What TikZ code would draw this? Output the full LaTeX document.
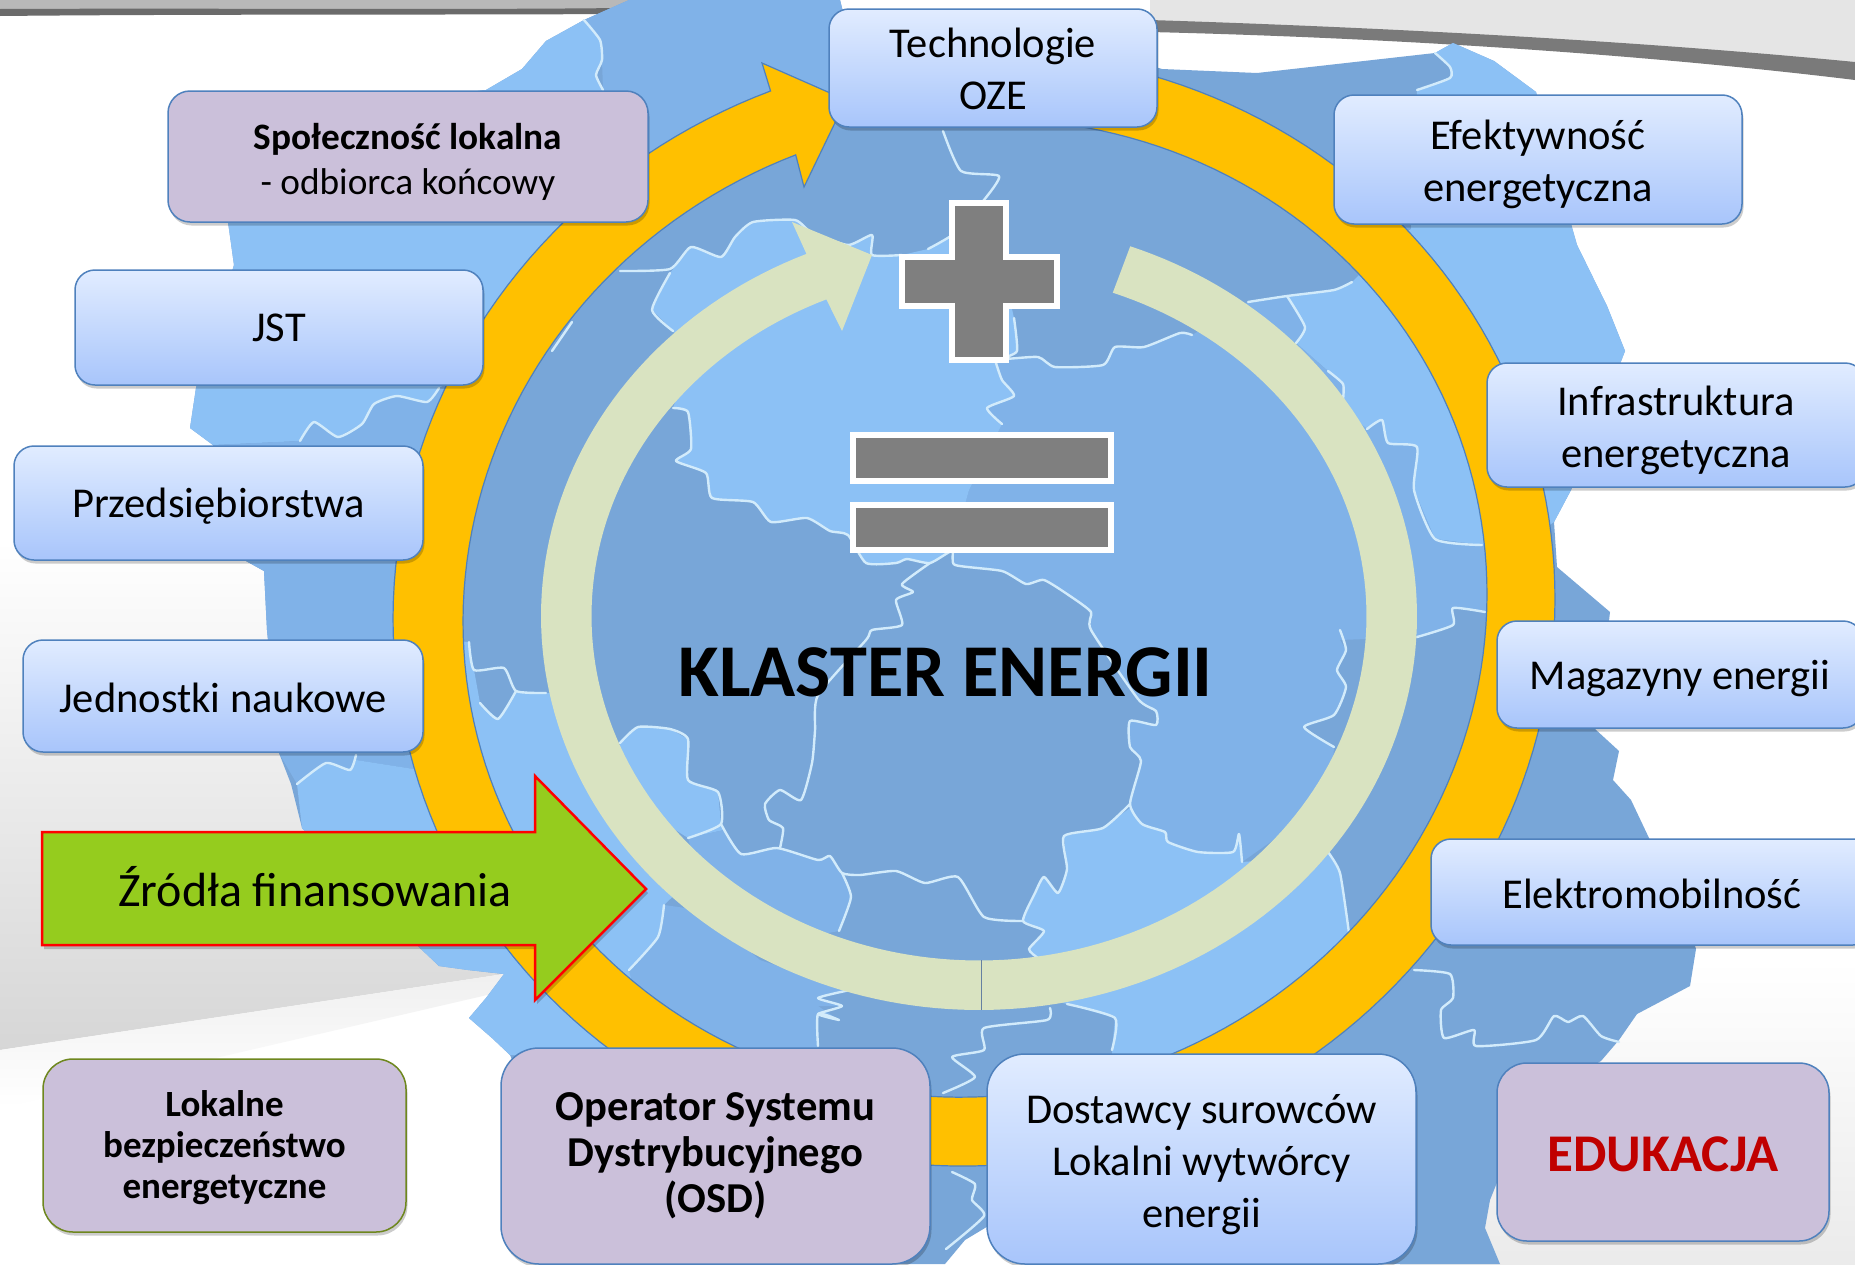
\documentclass[tikz,border=0pt]{standalone}
\usepackage{fontspec}
\setmainfont{Carlito}
\usetikzlibrary{shadows}
\definecolor{mapdark}{HTML}{78A6D8}
\definecolor{mapmid}{HTML}{80B2E8}
\definecolor{maplight}{HTML}{8CC1F5}
\definecolor{mapline}{HTML}{D2EBFB}
\definecolor{ringy}{HTML}{FFC000}
\definecolor{ringg}{HTML}{D9E3C1}
\definecolor{edge}{HTML}{4F81BD}
\definecolor{boxtop}{HTML}{E1ECFF}
\definecolor{boxbot}{HTML}{A8C5FB}
\definecolor{boxpurple}{HTML}{CBC0DA}
\definecolor{signgray}{HTML}{7F7F7F}
\tikzset{
  softshadow/.style={drop shadow={shadow xshift=1.5pt,shadow yshift=-3.5pt,opacity=.2,fill=black}},
  bluebox/.style={draw=edge,line width=1.5pt,rounded corners=20pt,shade,top color=boxtop,bottom color=boxbot,
    align=center,inner sep=0pt,softshadow,font=\fontsize{42.5}{52}\selectfont},
  purplebox/.style={draw=edge,line width=1.5pt,rounded corners=22pt,fill=boxpurple,
    align=center,inner sep=0pt,softshadow},
  lowtext/.style={execute at begin node=\rule{0pt}{#1}},
  borderline/.style={draw=mapline,line width=2.4pt,line join=round,line cap=round},
  signshape/.style={draw=white,line width=6pt,fill=signgray,miter limit=10},
}
\newcommand{\bline}[1]{\draw[borderline] plot[smooth,tension=.35] coordinates {#1};}
\begin{document}
\begin{tikzpicture}[x=1pt,y=-1pt]
\path[use as bounding box,clip] (0,0) rectangle (1855,1264);
% background
\fill[white] (0,0) rectangle (1855,1264);
\shade[top color=white,bottom color=black!16] (0,540) -- (620,540) -- (620,960) -- (504,974) -- (0,1050) -- cycle;
\shade[top color=black!6,bottom color=white] (0,1050) -- (504,974) -- (500,992) -- (0,1108) -- cycle;
\shade[top color=white,bottom color=black!8] (1400,960) rectangle (1855,1264);
\fill[black!10] (1150,0) -- (1855,0) -- (1855,70) .. controls (1650,40) and (1400,30) .. (1150,22) -- cycle;
\fill[black!28] (0,0) -- (640,0) -- (640,9) -- (0,12) -- cycle;
\fill[black!58] (0,9) .. controls (200,8) and (450,10) .. (620,8) -- (616,14) .. controls (450,15) and (200,14) .. (0,16) -- cycle;
\fill[black!52] (1150,20) .. controls (1400,28) and (1650,42) .. (1855,62) -- (1855,80) .. controls (1650,55) and (1400,38) .. (1150,32) -- cycle;
% map silhouette
\fill[mapdark] (629,0) -- (840,0) -- (845,20) -- (1000,20) -- (1162,69) -- (1257,73) -- (1435,53) -- (1453,43) -- (1494,61) -- (1536,92) -- (1571,224) -- (1577,245) -- (1607,306) -- (1625,351) -- (1571,490) -- (1554,522) -- (1557,567) -- (1610,612) -- (1600,700) -- (1595,729) -- (1619,751) -- (1613,780) -- (1631,800) -- (1649,838) -- (1680,900) -- (1696,949) -- (1690,986) -- (1637,1014) -- (1619,1040) -- (1601,1061) -- (1530,1100) -- (1490,1200) -- (1485,1228) -- (1500,1264) -- (1100,1264) -- (990,1225) -- (965,1240) -- (945,1264) -- (600,1264) -- (510,1055) -- (492,1038) -- (469,1018) -- (486,998) -- (504,974) -- (468,970) -- (439,966) -- (421,949) -- (302,828) -- (291,784) -- (279,753) -- (267,630) -- (264,571) -- (246,561) -- (213,445) -- (190,428) -- (196,388) -- (234,265) -- (228,222) -- (240,120) -- (486,90) -- (522,69) -- (546,41) -- (584,20) -- cycle;
% regions
\fill[maplight] (584,20) -- (600,40) -- (602,60) -- (596,75) -- (603,90) -- (600,250) -- (540,300) -- (470,370) -- (439,388) -- (427,402) -- (397,396) -- (374,404) -- (362,424) -- (338,437) -- (314,422) -- (300,441) -- (213,445) -- (190,428) -- (196,388) -- (234,265) -- (228,222) -- (240,120) -- (486,90) -- (522,69) -- (546,41) -- cycle;
\fill[mapmid] (584,20) -- (629,0) -- (840,0) -- (845,20) -- (870,110) -- (800,130) -- (740,130) -- (650,190) -- (600,250) -- (603,90) -- (602,60) -- (600,40) -- cycle;
\fill[mapmid] (300,441) -- (314,422) -- (338,437) -- (362,424) -- (374,404) -- (397,396) -- (427,402) -- (439,388) -- (480,400) -- (430,600) -- (420,770) -- (356,760) -- (350,770) -- (326,763) -- (297,784) -- (279,753) -- (267,630) -- (264,571) -- (246,561) -- (213,445) -- cycle;
\fill[maplight] (297,784) -- (302,828) -- (421,949) -- (439,966) -- (468,970) -- (504,974) -- (486,998) -- (469,1018) -- (492,1038) -- (510,1055) -- (610,1060) -- (650,1000) -- (629,970) -- (658,937) -- (664,905) -- (690,880) -- (600,760) -- (565,693) -- (546,693) -- (516,691) -- (498,719) -- (480,703) -- (474,670) -- (469,642) -- (440,640) -- (420,770) -- (356,760) -- (350,770) -- (326,763) -- cycle;
\fill[mapmid] (664,905) -- (658,937) -- (629,970) -- (650,1060) -- (818,1060) -- (818,1014) -- (839,1020) -- (818,1006) -- (842,1006) -- (818,998) -- (850,990) -- (760,960) -- (700,910) -- cycle;
\fill[maplight] (1130,808) -- (1142,824) -- (1165,832) -- (1168,842) -- (1198,852) -- (1233,852) -- (1239,834) -- (1242,862) -- (1270,860) -- (1328,852) -- (1340,873) -- (1349,933) -- (1340,990) -- (1200,1075) -- (1112,1060) -- (1112,1050) -- (1115,1018) -- (1067,1004) -- (1050,1000) -- (1038,958) -- (1029,949) -- (1044,931) -- (1023,921) -- (1035,893) -- (1044,877) -- (1058,893) -- (1067,869) -- (1064,836) -- (1103,828) -- cycle;
\fill[maplight] (1352,282) -- (1334,290) -- (1287,296) -- (1305,327) -- (1296,343) -- (1328,371) -- (1343,384) -- (1345,410) -- (1367,429) -- (1382,420) -- (1388,443) -- (1417,447) -- (1414,490) -- (1435,539) -- (1482,545) -- (1520,545) -- (1554,522) -- (1571,490) -- (1625,351) -- (1607,306) -- (1577,245) -- (1571,224) -- (1536,92) -- (1494,61) -- (1453,43) -- (1435,53) -- (1450,67) -- (1450,78) -- (1417,90) -- (1411,229) -- (1395,240) -- cycle;
\fill[mapmid] (1002,359) -- (1038,357) -- (1055,367) -- (1103,365) -- (1115,347) -- (1144,347) -- (1180,333) -- (1192,335) -- (1248,302) -- (1287,296) -- (1305,327) -- (1296,343) -- (1328,371) -- (1343,384) -- (1345,410) -- (1367,429) -- (1382,420) -- (1388,443) -- (1417,447) -- (1414,490) -- (1435,539) -- (1482,545) -- (1510,545) -- (1510,620) -- (1485,612) -- (1453,608) -- (1453,625) -- (1417,637) -- (1340,640) -- (1346,650) -- (1337,670) -- (1346,687) -- (1334,715) -- (1304,727) -- (1334,747) -- (1330,800) -- (1242,862) -- (1239,834) -- (1233,852) -- (1198,852) -- (1168,842) -- (1165,832) -- (1142,824) -- (1130,808) -- (1130,804) -- (1141,761) -- (1130,747) -- (1130,721) -- (1156,725) -- (1156,711) -- (1138,699) -- (1091,630) -- (1091,612) -- (1070,596) -- (1044,580) -- (1026,584) -- (1002,571) -- (955,565) -- (952,551) -- (969,490) -- (1002,424) -- (987,408) -- (1014,396) -- (1002,380) -- (996,363) -- cycle;
\fill[maplight] (673,331) -- (652,310) -- (670,273) -- (691,247) -- (721,257) -- (735,237) -- (753,222) -- (795,220) -- (812,233) -- (848,245) -- (872,235) -- (872,255) -- (902,255) -- (928,249) -- (955,233) -- (1010,300) -- (1014,318) -- (1017,351) -- (1002,359) -- (996,363) -- (1002,380) -- (1014,396) -- (987,408) -- (1002,424) -- (969,490) -- (952,551) -- (930,563) -- (907,559) -- (896,563) -- (866,563) -- (848,535) -- (830,531) -- (807,518) -- (771,522) -- (753,502) -- (712,498) -- (706,473) -- (676,461) -- (691,449) -- (688,412) -- (673,408) -- (690,360) -- cycle;
\fill[maplight] (620,743) -- (638,727) -- (670,729) -- (688,739) -- (688,780) -- (718,792) -- (721,824) -- (724,830) -- (688,838) -- (660,820) -- (620,780) -- cycle;
\fill[mapmid] (688,838) -- (724,830) -- (741,854) -- (777,848) -- (818,860) -- (830,856) -- (842,873) -- (851,897) -- (839,931) -- (790,940) -- (700,880) -- cycle;
% voivodeship borders
\bline{(584,20)(600,40)(602,60)(596,75)(603,90)}
\bline{(620,271)(670,269)(691,247)(721,257)(735,237)(753,222)(795,220)(812,233)(848,245)(872,235)(872,255)(902,255)}
\bline{(670,273)(652,310)(673,331)}
\bline{(572,322)(552,351)}
\bline{(439,388)(427,402)(397,396)(374,404)(362,424)(338,437)(314,422)(300,441)}
\bline{(943,131)(961,171)(999,176)(984,200)(955,233)(928,249)}
\bline{(1014,318)(1017,351)(1002,359)(1038,357)(1055,367)(1103,365)(1115,347)(1144,347)(1180,333)(1192,335)}
\bline{(996,363)(1002,380)(1014,396)(987,408)(1002,424)}
\bline{(1248,302)(1287,296)(1334,290)(1352,282)}
\bline{(1287,296)(1305,327)(1296,343)}
\bline{(1328,371)(1343,384)(1343,400)}
\bline{(1367,429)(1382,420)(1388,443)(1417,447)(1414,490)(1435,539)(1482,545)}
\bline{(1417,637)(1453,625)(1453,608)(1485,612)}
\bline{(1340,630)(1346,650)(1337,670)(1346,687)(1334,715)(1304,727)(1334,747)}
\bline{(673,408)(688,412)(691,449)(676,461)(706,473)(712,498)(753,502)(771,522)(807,518)(830,531)(848,535)(866,563)(896,563)(907,559)(930,563)(952,551)(955,565)(1002,571)(1026,584)(1044,580)(1070,596)(1091,612)(1091,630)(1138,699)(1156,711)(1156,725)(1130,721)(1130,747)(1141,761)(1130,804)(1142,824)(1165,832)(1168,842)(1198,852)(1233,852)(1239,834)(1242,862)}
\bline{(1130,804)(1103,828)(1064,836)(1067,869)(1058,893)(1044,877)(1035,893)(1023,921)(1044,931)(1029,949)(1038,958)}
\bline{(930,563)(902,584)(913,592)(896,600)(902,625)(872,630)(866,640)(818,695)(815,731)(812,763)(801,800)(780,790)(765,804)(769,820)(783,828)(780,848)}
\bline{(620,743)(638,727)(670,729)(688,739)(688,780)(718,792)(721,824)(688,838)}
\bline{(721,824)(741,854)(777,848)(818,860)(830,856)(842,873)(860,875)(896,871)(925,883)(958,877)(984,917)(1023,921)}
\bline{(842,873)(851,897)(839,931)}
\bline{(469,642)(474,670)(504,668)(516,691)(546,693)}
\bline{(516,691)(498,719)(480,703)}
\bline{(664,905)(658,937)(629,970)}
\bline{(297,784)(326,763)(350,770)(356,755)}
\bline{(850,990)(818,998)(842,1006)(818,1014)(839,1020)(818,1014)(818,1046)}
\bline{(1050,1008)(1047,1020)(984,1028)(984,1050)(952,1057)(975,1077)(943,1093)}
\bline{(1067,1004)(1115,1018)(1112,1050)}
\bline{(952,1172)(975,1184)(972,1200)(984,1216)(946,1249)}
\bline{(1328,852)(1340,873)(1349,933)}
\bline{(1417,90)(1450,78)(1450,67)(1435,53)}
\bline{(1414,970)(1450,974)(1453,998)(1441,1010)(1444,1038)(1474,1030)(1476,1046)(1536,1040)(1554,1016)(1568,1022)(1583,1016)(1601,1036)(1619,1042)}
% yellow ring arrow
\path[fill=ringy,draw=edge,line width=1.2pt,line join=miter]
  plot[variable=\t,domain=95:-249.5,samples=200] ({974+581*cos(\t)},{609-557*sin(\t)-10.5*cos(\t)})
  -- (762,63) -- (846,100) -- (804,187)
  -- plot[variable=\t,domain=-249.5:95,samples=200] ({975+512*cos(\t)},{608-489*sin(\t)-14*cos(\t)}) -- cycle;
% green ring arrow
\path[fill=ringg]
  plot[variable=\t,domain=69.8:-246.8,samples=200] ({979+438*cos(\t)},{616-394*sin(\t)})
  -- (792,222) -- (872,255) -- (842,331)
  -- plot[variable=\t,domain=-246.8:69.8,samples=200] ({979+387.5*cos(\t)},{616-344.5*sin(\t)}) -- cycle;
\draw[edge!55!gray,line width=1pt] (981,960) -- (981,1010);
% plus and equals
\path[signshape] (952,203) -- (1006,203) -- (1006,257) -- (1057,257) -- (1057,306) -- (1006,306) -- (1006,360) -- (952,360) -- (952,306) -- (902,306) -- (902,257) -- (952,257) -- cycle;
\path[signshape] (853,435) rectangle (1111,481);
\path[signshape] (853,505) rectangle (1111,550);
\node[inner sep=0pt,font=\fontsize{74.5}{80}\bfseries\selectfont] (title) at (945.5,672) {KLASTER ENERGII};
% green input arrow
\path[fill=black,opacity=.2] (44,836) -- (537,836) -- (537,780) -- (648,893) -- (537,1004) -- (537,949) -- (44,949) -- cycle;
\path[fill={rgb,255:red,149;green,204;blue,30},draw=red,line width=2.5pt,line join=miter] (42,832) -- (535,832) -- (535,776) -- (646,889) -- (535,1000) -- (535,945) -- (42,945) -- cycle;
\node[inner sep=0pt,font=\fontsize{48}{52}\selectfont] (zrodla) at (315,887) {Źródła finansowania};
% boxes
\node[purplebox,lowtext=83pt,minimum width=480pt,minimum height=131pt,font=\fontsize{37.3}{45}\selectfont] (spol) at (408,156.5) {\textbf{Społeczność lokalna}\\- odbiorca końcowy};
\node[bluebox,minimum width=408pt,minimum height=115pt] (jst) at (279,327.5) {JST};
\node[bluebox,lowtext=36pt,minimum width=409pt,minimum height=114pt] (przed) at (218.5,503) {Przedsiębiorstwa};
\node[bluebox,lowtext=34pt,minimum width=400pt,minimum height=112pt] (jedn) at (223,696) {Jednostki naukowe};
\node[purplebox,lowtext=112pt,draw={rgb,255:red,110;green,135;blue,30},rounded corners=30pt,minimum width=363pt,minimum height=173pt,font=\fontsize{37}{41}\bfseries\selectfont] (lok) at (224.5,1145.5) {Lokalne\\bezpieczeństwo\\energetyczne};
\node[purplebox,rounded corners=38pt,minimum width=429pt,minimum height=216pt,font=\fontsize{42.6}{46}\bfseries\selectfont] (osd) at (715.5,1156) {Operator Systemu\\Dystrybucyjnego\\(OSD)};
\node[bluebox,lowtext=144pt,rounded corners=38pt,minimum width=429pt,minimum height=210pt] (dost) at (1201.5,1159) {Dostawcy surowców\\Lokalni wytwórcy\\energii};
\node[bluebox,lowtext=84pt,minimum width=328pt,minimum height=118pt] (tech) at (993,68) {Technologie\\OZE};
\node[bluebox,lowtext=92pt,minimum width=408pt,minimum height=129pt] (efekt) at (1538,159.5) {Efektywność\\energetyczna};
\node[bluebox,lowtext=92pt,minimum width=378pt,minimum height=124pt] (infra) at (1676,425) {Infrastruktura\\energetyczna};
\node[bluebox,lowtext=38pt,minimum width=366pt,minimum height=107pt] (mag) at (1680,674.5) {Magazyny energii};
\node[bluebox,lowtext=34pt,minimum width=442pt,minimum height=106pt] (elektro) at (1652,892) {Elektromobilność};
\node[purplebox,lowtext=39pt,rounded corners=30pt,minimum width=332pt,minimum height=178pt,text={rgb,255:red,192;green,0;blue,0},font=\fontsize{53}{56}\bfseries\selectfont] (edu) at (1663,1152) {EDUKACJA};
\end{tikzpicture}
\end{document}
